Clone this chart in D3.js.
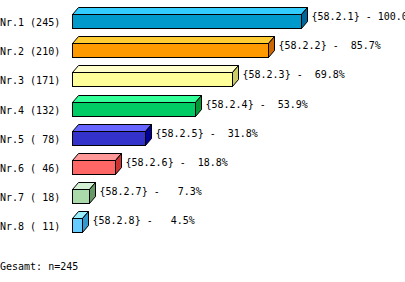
<!DOCTYPE html>
<html>
<head>
<meta charset="utf-8">
<script src="https://cdn.jsdelivr.net/npm/d3@7"></script>
<style>
  html, body { margin: 0; padding: 0; background: #fff; }
  svg { display: block; }
  text { font-family: "DejaVu Sans Mono", "Liberation Mono", monospace; font-size: 10px; fill: #000; white-space: pre; }
</style>
</head>
<body>
<svg id="chart" width="405" height="282"></svg>
<script>
// Answer categories, counts and codes
const categories = ["Nr.1", "Nr.2", "Nr.3", "Nr.4", "Nr.5", "Nr.6", "Nr.7", "Nr.8"];
const counts = [245, 210, 171, 132, 78, 46, 18, 11];
const codes = ["{58.2.1}", "{58.2.2}", "{58.2.3}", "{58.2.4}", "{58.2.5}", "{58.2.6}", "{58.2.7}", "{58.2.8}"];
const percents = [100.0, 85.7, 69.8, 53.9, 31.8, 18.8, 7.3, 4.5];
const total = 245;

// front / top / side shades for each bar
const frontColors = ["#0099cc", "#ff9900", "#ffff99", "#00cc66", "#3333cc", "#ff6666", "#aadaaa", "#66ccff"];
const topColors   = ["#33ccff", "#ffcc33", "#ffffcc", "#33ff99", "#6666ff", "#ff9999", "#d4f0d4", "#99eeff"];
const sideColors  = ["#006699", "#cc6600", "#cccc66", "#009933", "#000099", "#cc3333", "#669966", "#3399cc"];

const svg = d3.select("#chart");
const x = d3.scaleLinear().domain([0, total]).range([72, 301]);
const y = d3.scalePoint().domain(categories).range([21, 225.3]);
const h = 14, dx = 6, dy = 7;

const rows = categories.map((c, i) => ({ c, i, n: counts[i], code: codes[i], p: percents[i] }));

const g = svg.selectAll("g.bar").data(rows).join("g").attr("class", "bar");

g.each(function (d) {
  const sel = d3.select(this);
  const x0 = x(0), x1 = x(d.n);
  const yt = Math.round(y(d.c) - h / 2) + 0.5, yb = yt + h;
  const X0 = Math.round(x0) + 0.5, X1 = Math.round(x1) + 0.5;
  // top face
  sel.append("path")
    .attr("d", `M${X0},${yt}L${X0 + dx},${yt - dy}L${X1 + dx},${yt - dy}L${X1},${yt}Z`)
    .attr("fill", topColors[d.i]).attr("stroke", "#000").attr("stroke-width", 1);
  // side face
  sel.append("path")
    .attr("d", `M${X1},${yt}L${X1 + dx},${yt - dy}L${X1 + dx},${yb - dy}L${X1},${yb}Z`)
    .attr("fill", sideColors[d.i]).attr("stroke", "#000").attr("stroke-width", 1);
  // front face
  sel.append("rect")
    .attr("x", X0).attr("y", yt).attr("width", X1 - X0).attr("height", h)
    .attr("fill", frontColors[d.i]).attr("stroke", "#000").attr("stroke-width", 1);
  // category label with count
  sel.append("text")
    .attr("x", 0).attr("y", y(d.c) + 5)
    .text(`${d.c} (${String(d.n).padStart(3, " ")})`);
  // code and percentage
  sel.append("text")
    .attr("x", X1 + dx + 4).attr("y", y(d.c) - 1)
    .text(`${d.code} - ${d.p.toFixed(1).padStart(5, " ")}%`);
});

svg.append("text").attr("x", 0).attr("y", 270).text(`Gesamt: n=${total}`);
</script>
</body>
</html>
